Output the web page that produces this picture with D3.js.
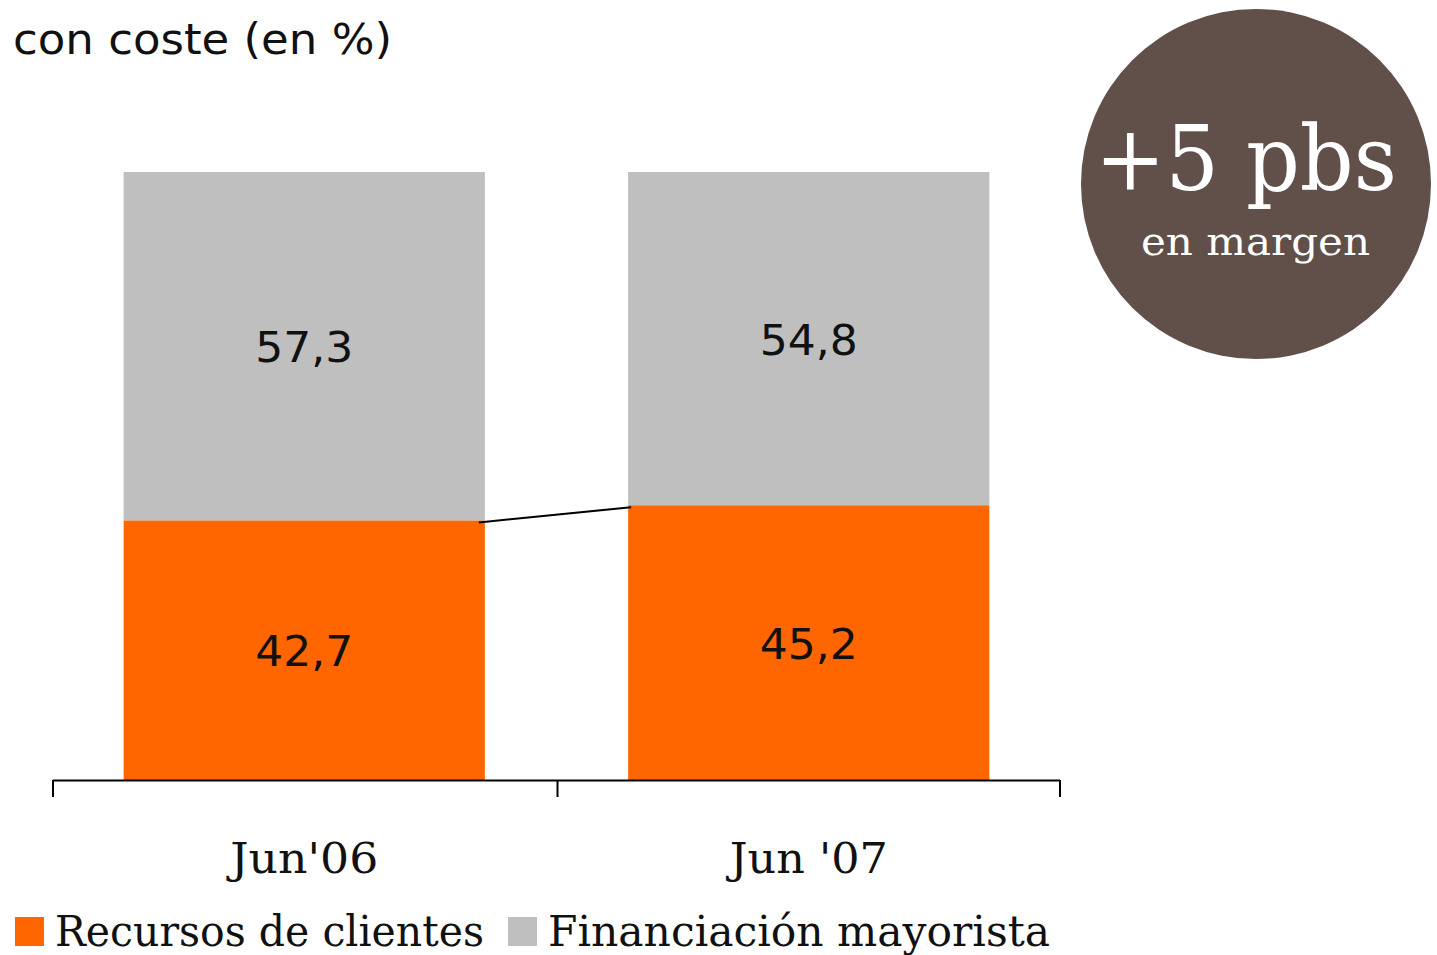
<!DOCTYPE html>
<html><head><meta charset="utf-8">
<script src="https://cdn.jsdelivr.net/npm/d3@7"></script>
<style>body{margin:0;background:#fff}svg{display:block}</style>
</head><body>
<script>
const categories = ["Jun'06", "Jun '07"];
const recursos = [42.7, 45.2];
const financiacion = [57.3, 54.8];
const seriesNames = ["Recursos de clientes", "Financiación mayorista"];
const colors = ["#FF6600", "#BFBFBF"];

const W = 1437, H = 955;
const svg = d3.select("body").append("svg").attr("width", W).attr("height", H);

const x = d3.scaleBand().domain(categories).range([53, 1060]).paddingInner(0.284).paddingOuter(0.14);
const y = d3.scaleLinear().domain([0, 100]).range([780, 172]);

// title
svg.append("text").attr("x", 13).attr("y", 54).attr("font-family", "DejaVu Sans").attr("font-size", 42)
  .attr("textLength", 379).attr("lengthAdjust", "spacingAndGlyphs").attr("fill", "#111").text("con coste (en %)");

const data = categories.map((c, i) => ({c, r: recursos[i], f: financiacion[i]}));

const g = svg.append("g");
g.selectAll("rect.r").data(data).join("rect").attr("class", "r")
  .attr("x", d => x(d.c)).attr("width", x.bandwidth())
  .attr("y", d => y(d.r)).attr("height", d => y(0) - y(d.r)).attr("fill", colors[0]);
g.selectAll("rect.f").data(data).join("rect").attr("class", "f")
  .attr("x", d => x(d.c)).attr("width", x.bandwidth())
  .attr("y", d => y(d.r + d.f)).attr("height", d => y(d.r) - y(d.r + d.f)).attr("fill", colors[1]);

const fmt = v => d3.format(".1f")(v).replace(".", ",");
g.selectAll("text.rl").data(data).join("text").attr("class", "rl")
  .attr("x", d => x(d.c) + x.bandwidth() / 2).attr("y", d => y(d.r / 2) + 16)
  .attr("text-anchor", "middle").attr("font-family", "DejaVu Sans").attr("font-size", 43).attr("fill", "#111")
  .attr("textLength", 98).attr("lengthAdjust", "spacingAndGlyphs")
  .text(d => fmt(d.r));
g.selectAll("text.fl").data(data).join("text").attr("class", "fl")
  .attr("x", d => x(d.c) + x.bandwidth() / 2).attr("y", d => y(d.r + d.f / 2) + 16)
  .attr("text-anchor", "middle").attr("font-family", "DejaVu Sans").attr("font-size", 43).attr("fill", "#111")
  .attr("textLength", 98).attr("lengthAdjust", "spacingAndGlyphs")
  .text(d => fmt(d.f));

// connector
svg.append("line")
  .attr("x1", x(categories[0]) + x.bandwidth() - 6).attr("y1", y(recursos[0]) + 2)
  .attr("x2", x(categories[1]) + 3).attr("y2", y(recursos[1]) + 2)
  .attr("stroke", "#000").attr("stroke-width", 2);

// axis
svg.append("line").attr("x1", 53).attr("x2", 1060).attr("y1", 780.5).attr("y2", 780.5).attr("stroke", "#000").attr("stroke-width", 2);
const step = x.step();
const tickXs = [53, 53 + step, 1060];
svg.selectAll("line.tk").data(tickXs).join("line").attr("class", "tk")
  .attr("x1", d => d).attr("x2", d => d).attr("y1", 780).attr("y2", 797).attr("stroke", "#000").attr("stroke-width", 2);

svg.selectAll("text.cat").data(categories).join("text").attr("class", "cat")
  .attr("x", d => x(d) + x.bandwidth() / 2).attr("y", 873)
  .attr("text-anchor", "middle").attr("font-family", "DejaVu Serif").attr("font-size", 42).attr("fill", "#111")
  .attr("textLength", (d, i) => i === 0 ? 148 : 158).attr("lengthAdjust", "spacingAndGlyphs")
  .text(d => d);

// legend
const leg = [{x: 15, tx: 55, tl: 429}, {x: 508, tx: 548, tl: 502}];
leg.forEach((l, i) => {
  svg.append("rect").attr("x", l.x).attr("y", 917).attr("width", 29).attr("height", 29).attr("fill", colors[i]);
  svg.append("text").attr("x", l.tx).attr("y", 946).attr("font-family", "DejaVu Serif").attr("font-size", 42)
    .attr("textLength", l.tl).attr("lengthAdjust", "spacingAndGlyphs").attr("fill", "#111").text(seriesNames[i]);
});

// circle
svg.append("circle").attr("cx", 1256).attr("cy", 184).attr("r", 175).attr("fill", "#615049");
svg.append("text").attr("x", 1095).attr("y", 190).attr("font-family", "DejaVu Serif").attr("font-size", 90)
  .attr("textLength", 302).attr("lengthAdjust", "spacingAndGlyphs").attr("fill", "#fff").text("+5 pbs");
svg.append("text").attr("x", 1141).attr("y", 255).attr("font-family", "DejaVu Serif").attr("font-size", 40)
  .attr("textLength", 229).attr("lengthAdjust", "spacingAndGlyphs").attr("fill", "#fff").text("en margen");
</script>
</body></html>
